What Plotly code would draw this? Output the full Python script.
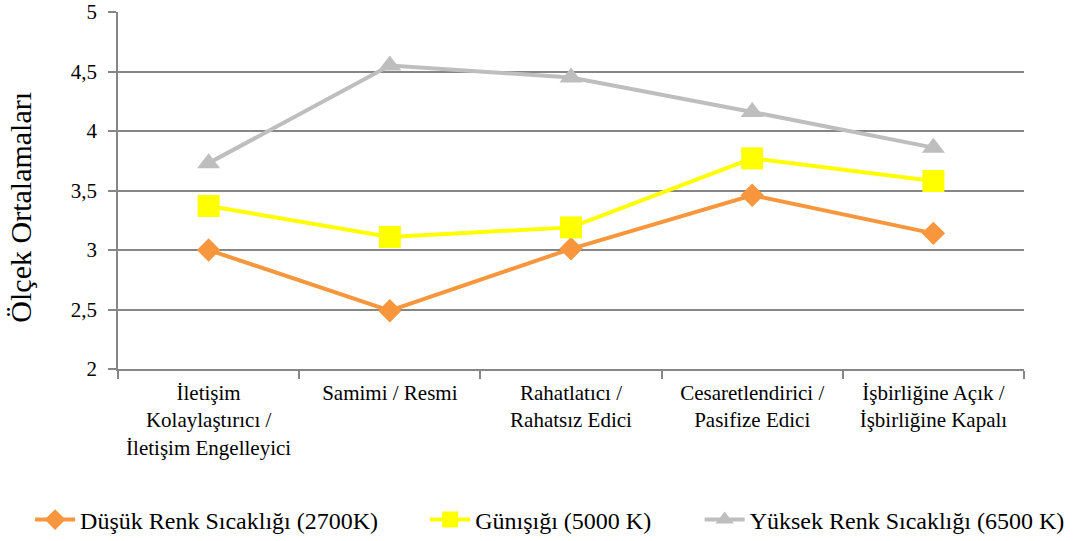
import plotly.graph_objects as go

categories = [
    "İletişim<br>Kolaylaştırıcı /<br>İletişim Engelleyici",
    "Samimi / Resmi",
    "Rahatlatıcı /<br>Rahatsız Edici",
    "Cesaretlendirici /<br>Pasifize Edici",
    "İşbirliğine Açık /<br>İşbirliğine Kapalı",
]
dusuk = [3.00, 2.49, 3.01, 3.46, 3.14]
gunisigi = [3.37, 3.11, 3.19, 3.77, 3.58]
yuksek = [3.73, 4.55, 4.45, 4.16, 3.86]
y_ticks = [2, 2.5, 3, 3.5, 4, 4.5, 5]
y_tick_labels = ["2", "2,5", "3", "3,5", "4", "4,5", "5"]
y_title = "Ölçek Ortalamaları"

names = ["Düşük Renk Sıcaklığı (2700K)", "Günışığı (5000 K)", "Yüksek Renk Sıcaklığı (6500 K)"]
colors = ["#F7963C", "#FFFF00", "#BEBEBE"]
symbols = ["diamond", "square", "triangle-up"]
sizes = [18, 22, 20]
legend_ids = ["legend", "legend2", "legend3"]
legend_x = [-0.097, 0.339, 0.642]

FONT = "'Liberation Serif', 'Times New Roman', serif"

fig = go.Figure()
for vals, name, col, sym, sz, lid in zip([dusuk, gunisigi, yuksek], names, colors, symbols, sizes, legend_ids):
    fig.add_trace(go.Scatter(
        x=categories, y=vals, name=name, mode="lines+markers",
        line=dict(color=col, width=4),
        marker=dict(symbol=sym, size=sz, color=col),
        legend=lid,
    ))

legend_common = dict(orientation="h", xanchor="left", y=-0.36, yanchor="top",
                     font=dict(family=FONT, size=24), itemwidth=40, bgcolor="rgba(0,0,0,0)")
fig.update_layout(
    width=1074, height=541,
    margin=dict(l=118, r=50, t=12, b=172, autoexpand=False),
    paper_bgcolor="white", plot_bgcolor="white",
    font=dict(family=FONT, color="black", size=20),
    showlegend=True,
    legend=dict(x=legend_x[0], **legend_common),
    legend2=dict(x=legend_x[1], **legend_common),
    legend3=dict(x=legend_x[2], **legend_common),
    annotations=[dict(
        text=y_title, textangle=-90, xref="paper", yref="paper",
        x=0, xshift=-97, y=0.452, xanchor="center", yanchor="middle",
        showarrow=False, font=dict(family=FONT, size=30, color="black"),
    )],
)
fig.update_xaxes(
    type="category", showgrid=False, showline=True, linecolor="#868686", linewidth=1.5,
    ticks="outside", tickson="boundaries", ticklen=8, tickcolor="#868686", tickwidth=1.5,
    tickfont=dict(family=FONT, size=21), range=[-0.5, 4.5], ticklabelstandoff=4,
)
fig.update_yaxes(
    range=[2, 5], tickvals=y_ticks, ticktext=y_tick_labels,
    showgrid=True, gridcolor="#868686", gridwidth=1.5,
    showline=True, linecolor="#868686", linewidth=1.5,
    ticks="outside", ticklen=8, tickcolor="#868686", tickwidth=1.5,
    tickfont=dict(family=FONT, size=21), zeroline=False,
    ticklabeloverflow="allow", ticklabelstandoff=7,
)

fig.write_html("out.html")
